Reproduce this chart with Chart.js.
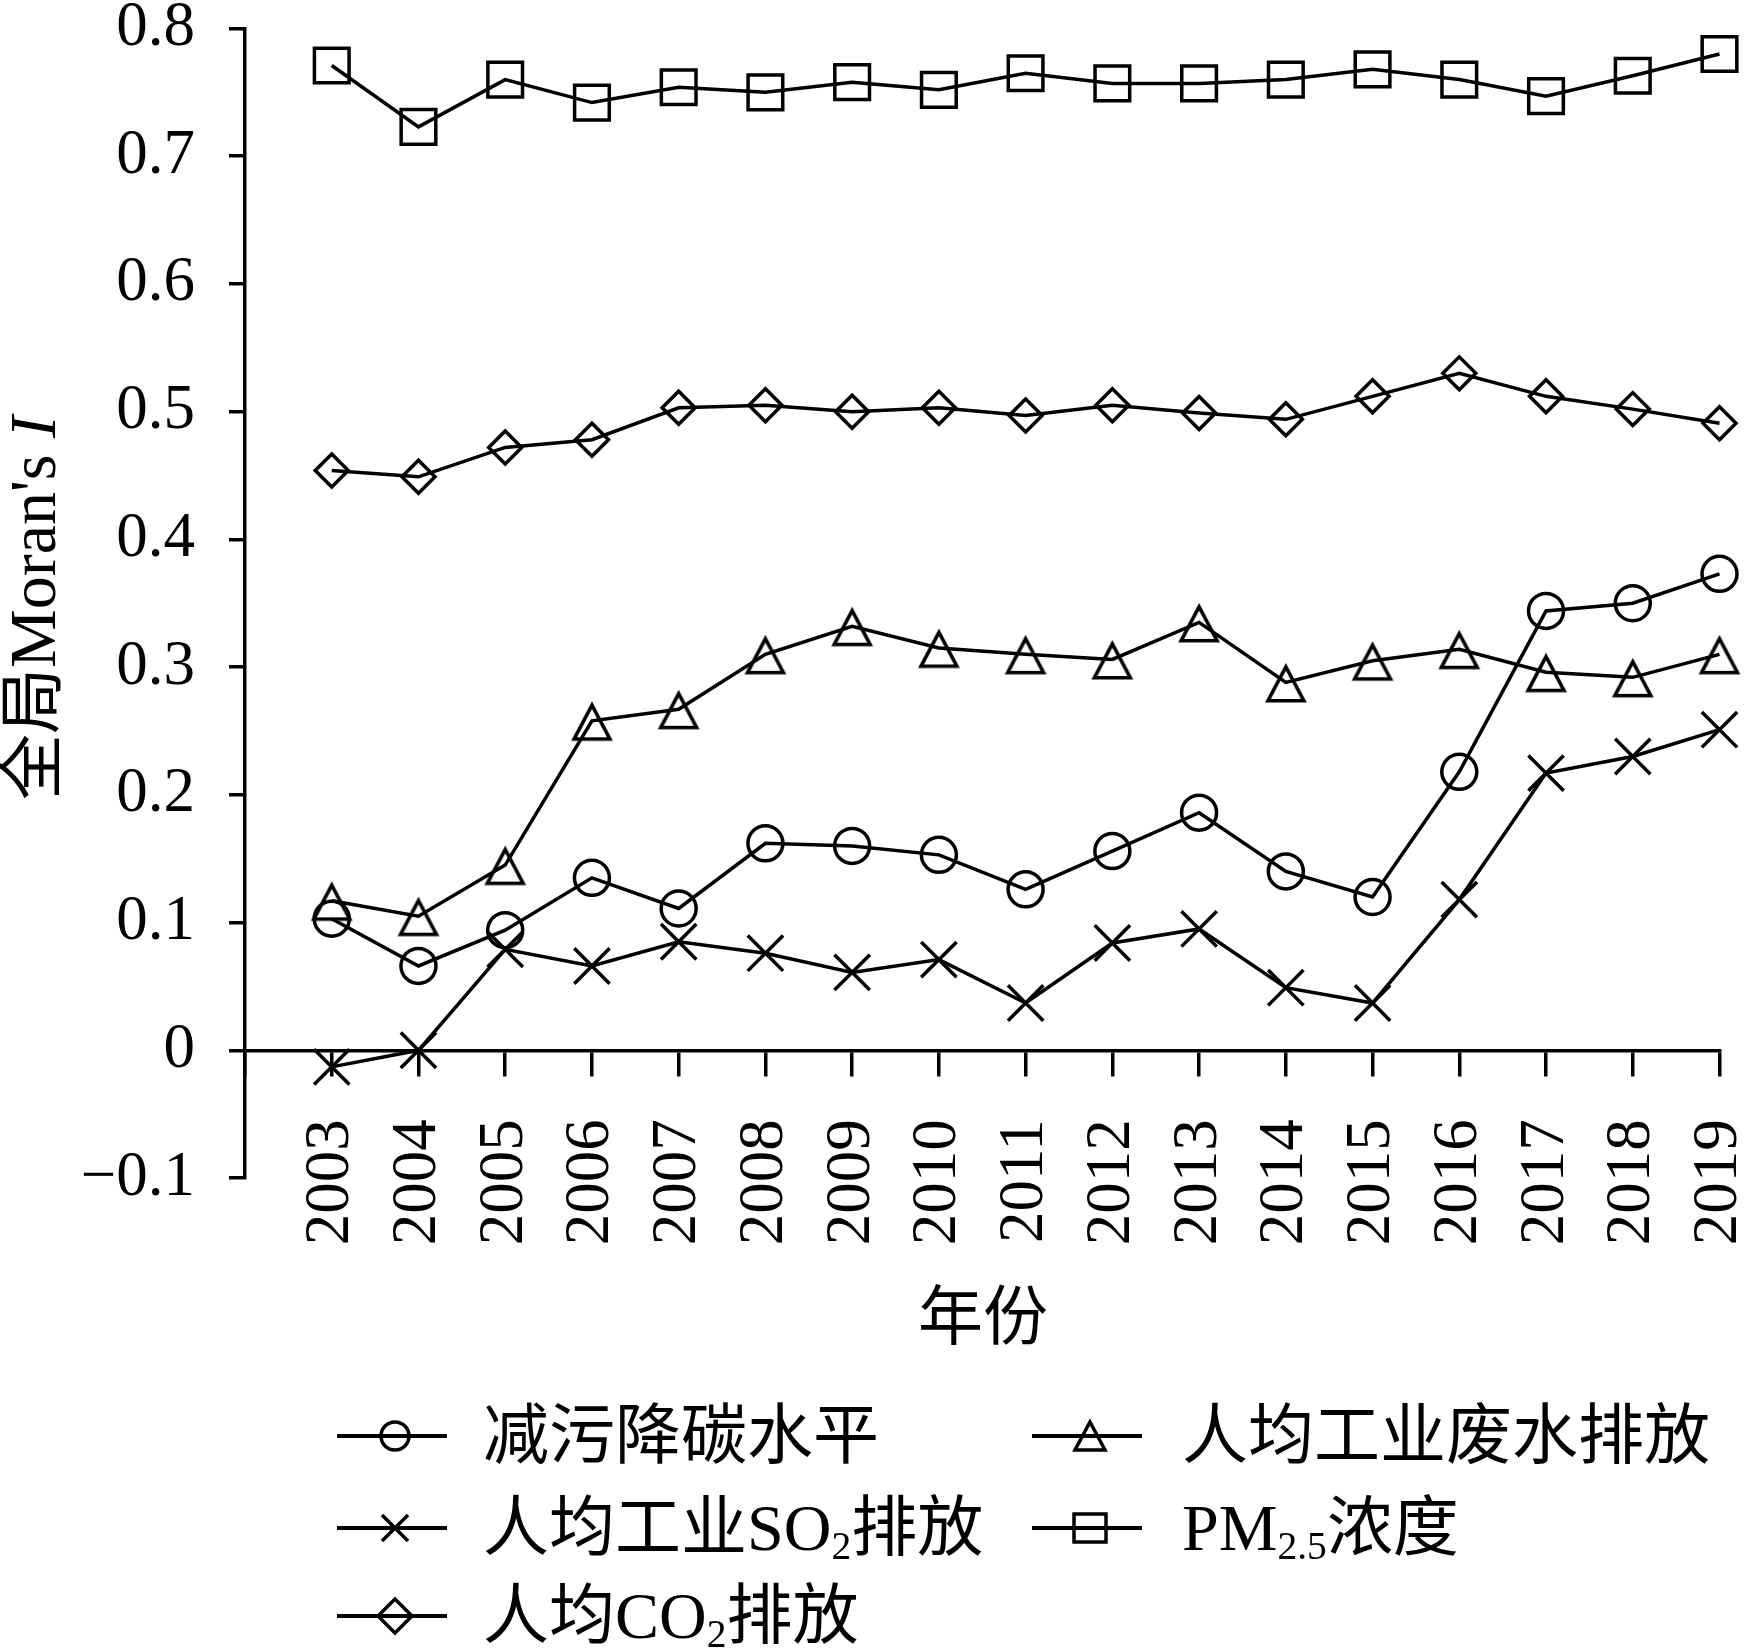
<!DOCTYPE html>
<html>
<head>
<meta charset="utf-8">
<title>全局Moran's I</title>
<script src="https://cdn.jsdelivr.net/npm/chart.js@4.4.1/dist/chart.umd.min.js"></script>
<style>
  html, body { margin: 0; padding: 0; background: #fff; }
  #wrap { position: relative; width: 1748px; height: 1651px; overflow: hidden; }
  #chart { position: absolute; left: 0; top: 0; }
  .txt {
    position: absolute;
    font-family: "Liberation Serif", "Noto Sans CJK SC", serif;
    color: #000;
    white-space: nowrap;
    line-height: 1;
  }
  .txt sub { font-size: 0.6em; vertical-align: baseline; position: relative; top: 0.22em; }
  #ytitle { left: 0px; top: 800px; font-size: 66px; height: 66px; transform-origin: 0 0; transform: rotate(-90deg); }
  #xtitle { left: 983px; top: 1317px; font-size: 65px; transform: translate(-50%, -50%); }
  .leg-icon { position: absolute; }
  .leg-text { font-size: 66px; transform: translateY(-50%); }
</style>
</head>
<body>
<div id="wrap">
  <canvas id="chart" width="1748" height="1651"></canvas>
  <div id="ytitle" class="txt">全局Moran's <i>I</i></div>
  <div id="xtitle" class="txt">年份</div>
  <div id="legend"></div>
</div>
<script>
// datos
const years = [2003, 2004, 2005, 2006, 2007, 2008, 2009, 2010, 2011, 2012, 2013, 2014, 2015, 2016, 2017, 2018, 2019];

const jianwu  = [0.103, 0.066, 0.094, 0.135, 0.111, 0.162, 0.160, 0.153, 0.126, 0.156, 0.186, 0.140, 0.120, 0.218, 0.344, 0.350, 0.373];
const feishui = [0.117, 0.105, 0.145, 0.258, 0.267, 0.310, 0.332, 0.315, 0.310, 0.306, 0.335, 0.288, 0.305, 0.314, 0.296, 0.292, 0.310];
const so2     = [-0.013, 0.000, 0.079, 0.066, 0.085, 0.076, 0.061, 0.071, 0.037, 0.084, 0.095, 0.049, 0.037, 0.118, 0.217, 0.230, 0.251];
const pm25    = [0.771, 0.723, 0.760, 0.742, 0.754, 0.750, 0.758, 0.752, 0.765, 0.757, 0.757, 0.760, 0.768, 0.760, 0.747, 0.763, 0.780];
const co2     = [0.454, 0.449, 0.472, 0.478, 0.503, 0.505, 0.500, 0.503, 0.497, 0.505, 0.499, 0.494, 0.512, 0.530, 0.512, 0.502, 0.491];

const seriesNames = ['减污降碳水平', '人均工业废水排放', '人均工业SO2排放', 'PM2.5浓度', '人均CO2排放'];
const yMin = -0.1, yMax = 0.8, yStep = 0.1;
const xMin = 2002, xMax = 2019;

const serif = '"Liberation Serif", "Times New Roman", serif';
Chart.defaults.font.family = serif;
Chart.defaults.color = '#000';

// triangulo con el punto un poco arriba del centro, como en la figura
function triangleMarker(w, h, lw, frac) {
  var c = document.createElement('canvas');
  var half = Math.max(frac, 1 - frac) * h;
  c.width = Math.ceil(w + lw * 4);
  c.height = Math.ceil(2 * half + lw * 4);
  var ctx = c.getContext('2d');
  var cx = c.width / 2, cy = c.height / 2;
  ctx.beginPath();
  ctx.moveTo(cx, cy - frac * h);
  ctx.lineTo(cx + w / 2, cy + (1 - frac) * h);
  ctx.lineTo(cx - w / 2, cy + (1 - frac) * h);
  ctx.closePath();
  ctx.lineWidth = lw;
  ctx.strokeStyle = '#000';
  ctx.stroke();
  return c;
}

function pts(vals) {
  return years.map(function (yr, i) { return { x: yr, y: vals[i] }; });
}

function serie(name, vals, style, radius) {
  return {
    label: name,
    data: pts(vals),
    borderColor: '#000',
    borderWidth: 3.5,
    backgroundColor: 'transparent',
    pointStyle: style,
    pointRadius: radius,
    pointHoverRadius: radius,
    pointBorderWidth: 3.5,
    pointBorderColor: '#000',
    pointBackgroundColor: 'transparent',
    tension: 0,
    fill: false,
    clip: false
  };
}

const datasets = [
  serie(seriesNames[0], jianwu, 'circle', 17.5),
  serie(seriesNames[1], feishui, triangleMarker(36, 34, 3.5, 0.46), 18),
  serie(seriesNames[2], so2, 'crossRot', 25),
  serie(seriesNames[3], pm25, 'rect', 24.5),
  serie(seriesNames[4], co2, 'rectRot', 16.5)
];

function fmtY(v) {
  if (Math.abs(v) < 1e-9) return '0';
  if (v < 0) return '\u2212' + Math.abs(v).toFixed(1);
  return v.toFixed(1);
}

new Chart(document.getElementById('chart'), {
  type: 'line',
  data: { datasets: datasets },
  options: {
    responsive: false,
    animation: false,
    devicePixelRatio: 1,
    layout: { padding: { left: 81, right: 26, top: 19, bottom: 473 } },
    plugins: { legend: { display: false }, tooltip: { enabled: false } },
    scales: {
      x: {
        type: 'linear',
        position: { y: 0 },
        min: xMin,
        max: xMax,
        border: { display: true, color: '#000', width: 3.5 },
        grid: { drawOnChartArea: false, drawTicks: true, tickLength: 24, color: '#000', lineWidth: 3.5 },
        ticks: {
          stepSize: 1,
          autoSkip: false,
          maxRotation: 90,
          minRotation: 90,
          padding: 45,
          font: { size: 63, lineHeight: 0.8 },
          callback: function (v) { return v === xMin ? '' : String(v); }
        },
        afterFit: function (s) { s.paddingLeft = 0; s.paddingRight = 0; }
      },
      y: {
        type: 'linear',
        min: yMin,
        max: yMax,
        border: { display: true, color: '#000', width: 3.5 },
        grid: { drawOnChartArea: false, drawTicks: true, tickLength: 16, color: '#000', lineWidth: 3.5 },
        ticks: {
          stepSize: yStep,
          padding: 34,
          font: { size: 63, lineHeight: 0.7 },
          callback: fmtY
        },
        afterFit: function (s) { s.width = 164; s.paddingTop = 0; s.paddingBottom = 0; }
      }
    }
  }
});

// leyenda en html
function fmtName(s) {
  return s.replace('SO2', 'SO<sub>2</sub>').replace('CO2', 'CO<sub>2</sub>').replace('PM2.5', 'PM<sub>2.5</sub>');
}
const legMarks = [
  '<circle cx="58" cy="20" r="14" fill="none" stroke="#000" stroke-width="3.5"/>',
  '<path d="M58 6 L73 34 L43 34 Z" fill="none" stroke="#000" stroke-width="3.5"/>',
  '<path d="M45 7 L71 33 M71 7 L45 33" stroke="#000" stroke-width="3.5"/>',
  '<rect x="42" y="6" width="32" height="28" fill="none" stroke="#000" stroke-width="3.5"/>',
  '<path d="M58 3 L75 20 L58 37 L41 20 Z" fill="none" stroke="#000" stroke-width="3.5"/>'
];
const colLine = [337, 1032];
const colText = [483, 1182];
const rowY = [1436, 1528, 1616];
var html = '';
seriesNames.forEach(function (name, i) {
  var col = i % 2, row = Math.floor(i / 2);
  html += '<svg class="leg-icon" width="116" height="40" style="left:' + colLine[col] + 'px;top:' + (rowY[row] - 20) + 'px">' +
    '<line x1="0" y1="20" x2="110" y2="20" stroke="#000" stroke-width="4"/>' + legMarks[i] + '</svg>';
  html += '<div class="txt leg-text" style="left:' + colText[col] + 'px;top:' + rowY[row] + 'px">' + fmtName(name) + '</div>';
});
document.getElementById('legend').innerHTML = html;
</script>
</body>
</html>
